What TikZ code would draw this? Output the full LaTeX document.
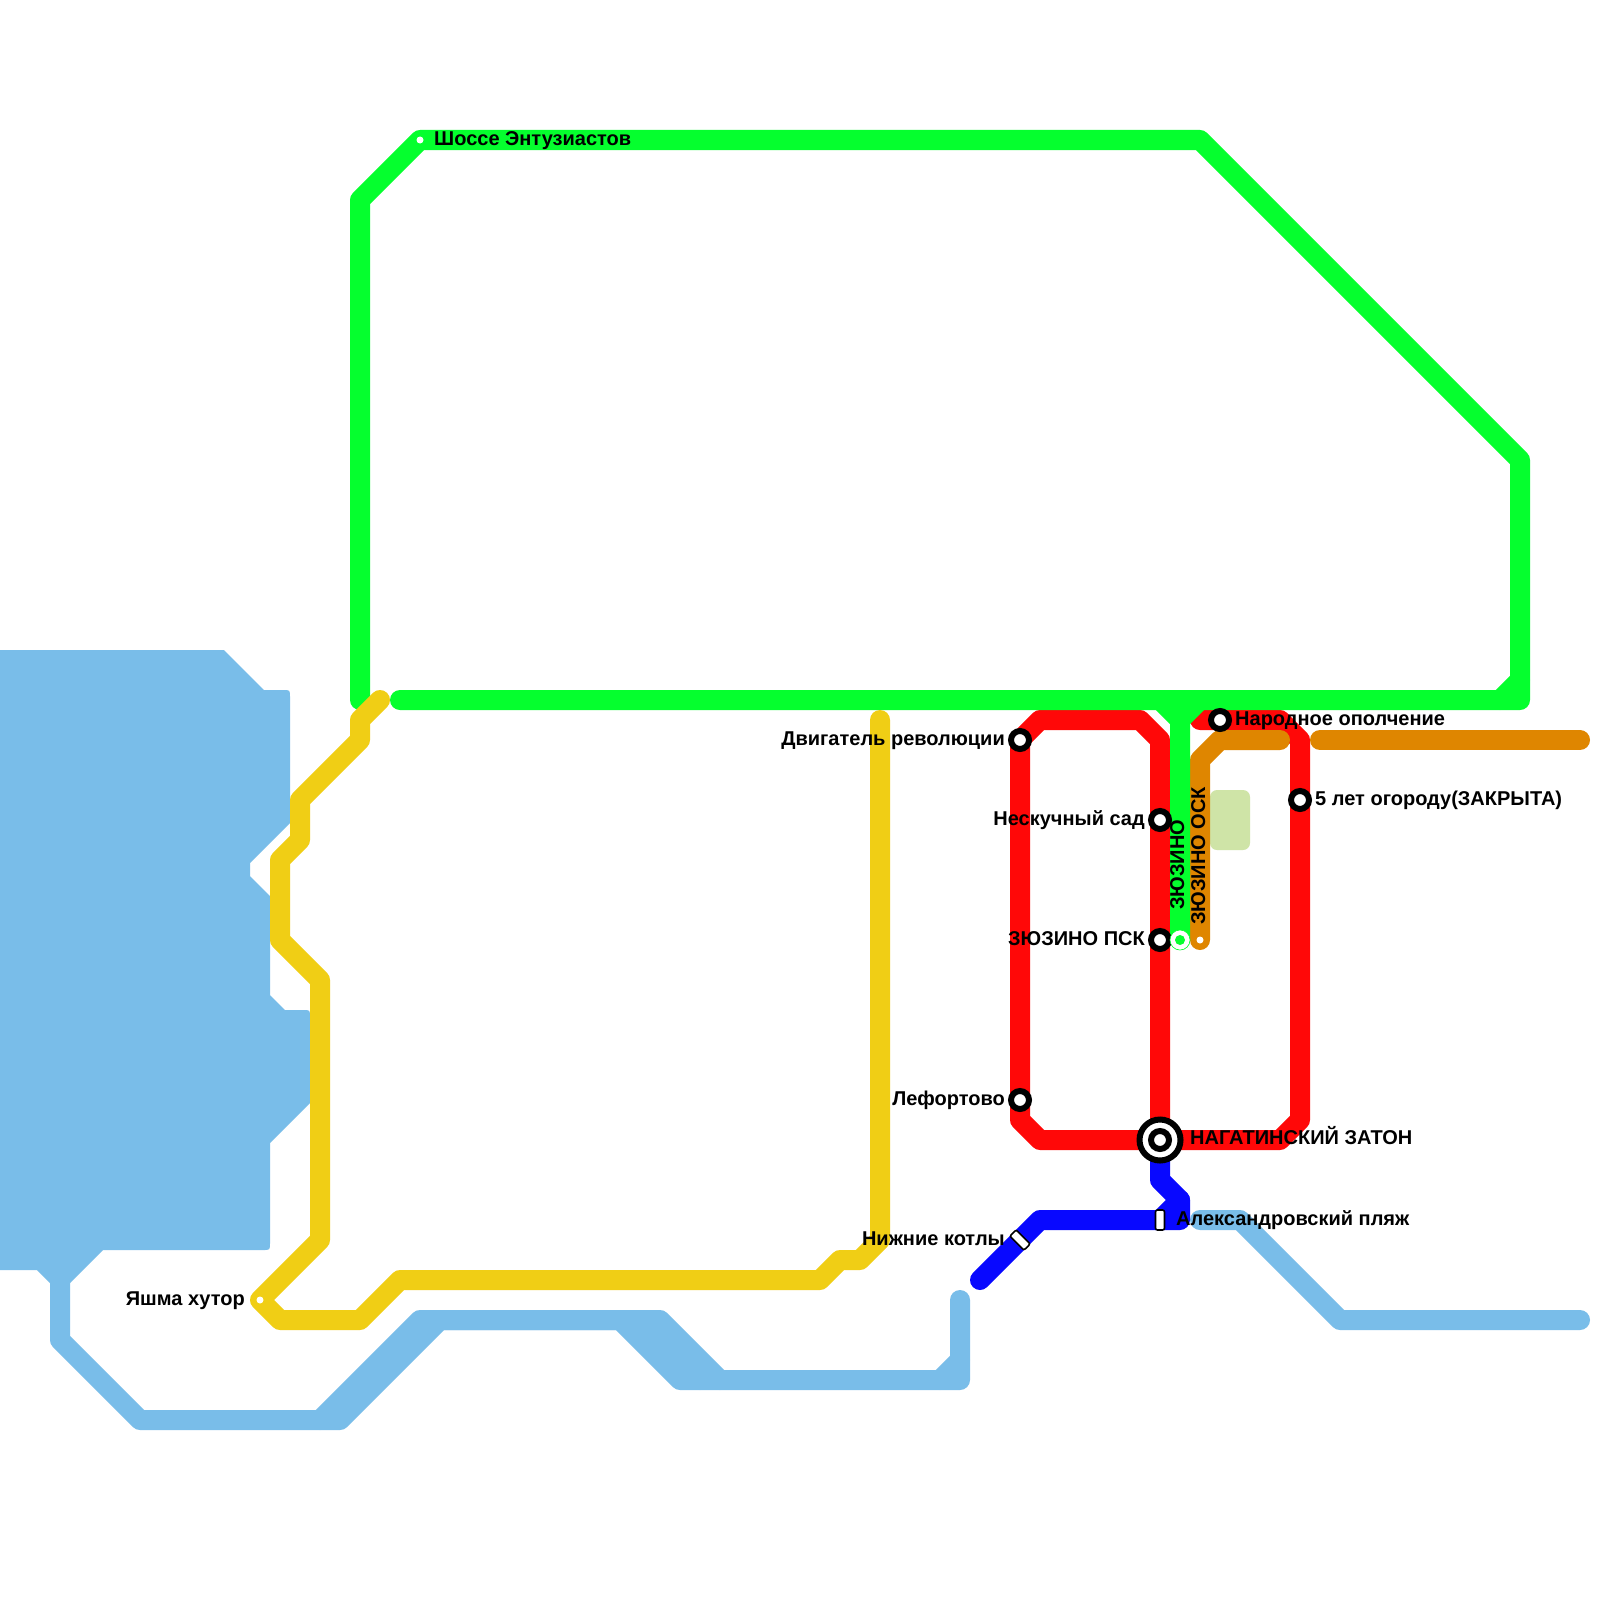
\documentclass[tikz,border=0pt]{standalone}
\usepackage{fontspec}
\setmainfont{Liberation Sans}
\definecolor{cgreen}{HTML}{05FF2E}
\definecolor{cred}{HTML}{FF0808}
\definecolor{cblue}{HTML}{0808FF}
\definecolor{cyellow}{HTML}{F0CE15}
\definecolor{corange}{HTML}{DF8600}
\definecolor{clblue}{HTML}{79BDE9}
\definecolor{cpale}{HTML}{CFE4A7}
\tikzset{
  metro/.style={line width=20pt,line cap=round,line join=round},
  ringst/.style={circle,draw=black,fill=white,line width=6pt,minimum size=18pt,inner sep=0pt},
  hubst/.style={circle,draw=black,fill=white,line width=6pt,minimum size=41pt,inner sep=0pt},
  dotst/.style={circle,fill=white,minimum size=7pt,inner sep=0pt},
  barst/.style={rectangle,rounded corners=2pt,draw=black,fill=white,line width=1.6pt,minimum width=9pt,minimum height=20pt,inner sep=0pt},
  lbl/.style={font=\fontsize{20}{20}\selectfont\bfseries,inner sep=0pt,text=black},
  lble/.style={lbl,anchor=base east},
  lblw/.style={lbl,anchor=base west},
  lblv/.style={lbl,rotate=90,anchor=base west},
}
\begin{document}
\begin{tikzpicture}[x=1pt,y=-1pt]
\useasboundingbox (0,0) rectangle (1600,1600);
\fill[white] (0,0) rectangle (1600,1600);
% station positions
\coordinate (pDvig) at (1020,740);
\coordinate (pNesk) at (1160,820);
\coordinate (pZpsk) at (1160,940);
\coordinate (pLef) at (1020,1100);
\coordinate (pNag) at (1160,1140);
\coordinate (pNar) at (1220,720);
\coordinate (pPyat) at (1300,800);
\coordinate (pAlex) at (1160,1220);
\coordinate (pKot) at (1020,1240);
\coordinate (pZ) at (1180,940);
\coordinate (pOsk) at (1200,940);
\coordinate (pSh) at (420,140);
\coordinate (pYa) at (260,1300);
% water
\fill[clblue] (0,650) -- (224,650) -- (264,690) -- (283,690) .. controls (290,690) .. (290,697)
  -- (290,823) -- (250,863) -- (250,876) -- (270,896) -- (270,995) -- (285,1010) -- (303,1010)
  .. controls (310,1010) .. (310,1017) -- (310,1103) -- (270,1143) -- (270,1243)
  .. controls (270,1250) .. (263,1250) -- (103,1250) -- (70,1283) -- (50,1283) -- (37,1270) -- (0,1270) -- cycle;
\draw[metro,clblue] (60,1280) -- (60,1340) -- (140,1420) -- (320,1420) -- (420,1320) -- (660,1320) -- (720,1380) -- (960,1380) -- (960,1300);
\draw[metro,clblue] (320,1420) -- (340,1420) -- (440,1320) -- (620,1320) -- (680,1380) -- (720,1380);
\draw[metro,clblue] (640,1320) -- (700,1380);
\draw[metro,clblue] (940,1380) -- (960,1360);
\draw[metro,clblue] (1200,1220) -- (1240,1220) -- (1340,1320) -- (1580,1320);
% pale block
\fill[cpale,rounded corners=7pt] (1210,790) rectangle (1250,850);
% blue line
\draw[metro,cblue] (pNag) -- (1160,1180) -- (1180,1200) -- (1180,1220) -- (pAlex) -- (1040,1220) -- (pKot) -- (980,1280);
\draw[metro,cblue] (pAlex) -- (1180,1200);
% red line
\draw[metro,cred] (pLef) -- (pDvig) -- (1040,720) -- (1140,720) -- (1160,740) -- (pNesk) -- (pZpsk) -- (pNag);
\draw[metro,cred] (pLef) -- (1020,1120) -- (1040,1140) -- (pNag) -- (1280,1140) -- (1300,1120) -- (pPyat) -- (1300,740) -- (1280,720) -- (pNar) -- (1200,720);
% orange line
\draw[metro,corange] (pOsk) -- (1200,760) -- (1220,740) -- (1280,740);
\draw[metro,corange] (1320,740) -- (1580,740);
% green line
\draw[metro,cgreen] (360,700) -- (360,200) -- (pSh) -- (1200,140) -- (1520,460) -- (1520,700) -- (400,700);
\draw[metro,cgreen] (1500,700) -- (1520,680);
\draw[metro,cgreen] (1160,700) -- (1180,720) -- (pZ);
\draw[metro,cgreen] (1200,700) -- (1180,720);
% yellow line
\draw[metro,cyellow] (380,700) -- (360,720) -- (360,740) -- (300,800) -- (300,840) -- (280,860) -- (280,940)
  -- (320,980) -- (320,1240) -- (pYa) -- (280,1320) -- (360,1320) -- (400,1280) -- (820,1280) -- (840,1260) -- (860,1260) -- (880,1240) -- (880,720);
% stations
\node[ringst] (sDvig) at (pDvig) {};
\node[ringst] (sNesk) at (pNesk) {};
\node[ringst] (sZpsk) at (pZpsk) {};
\node[ringst] (sLef) at (pLef) {};
\node[ringst] (sNar) at (pNar) {};
\node[ringst] (sPyat) at (pPyat) {};
\node[hubst] (sNag) at (pNag) {};
\node[ringst] (sNagI) at (pNag) {};
\node[barst] (sAlex) at (pAlex) {};
\node[barst,rotate=45] (sKot) at (pKot) {};
\node[circle,draw=cgreen,fill=white,line width=0.6pt,minimum size=20pt,inner sep=0pt] (sZ) at (pZ) {};
\node[circle,fill=cgreen,minimum size=10pt,inner sep=0pt] (sZi) at (pZ) {};
\node[dotst] (sOsk) at (pOsk) {};
\node[dotst] (sSh) at (pSh) {};
\node[dotst] (sYa) at (pYa) {};
% labels
\node[lblw] (tSh) at (434,146) {Шоссе Энтузиастов};
\node[lble] (tDvig) at (1005,745) {Двигатель революции};
\node[lble] (tNesk) at (1145,825) {Нескучный сад};
\node[lble] (tZpsk) at (1145,945) {ЗЮЗИНО ПСК};
\node[lble] (tLef) at (1005,1105) {Лефортово};
\node[lble] (tYa) at (245,1305) {Яшма хутор};
\node[lble] (tKot) at (1005,1245) {Нижние котлы};
\node[lblw] (tAlex) at (1176,1225) {Александровский пляж};
\node[lblw] (tNag) at (1190,1144) {НАГАТИНСКИЙ ЗАТОН};
\node[lblw] (tNar) at (1235,725) {Народное ополчение};
\node[lblw] (tPyat) at (1315,805) {5 лет огороду(ЗАКРЫТА)};
\node[lblv] (tZ) at (1184,910) {ЗЮЗИНО};
\node[lblv] (tOsk) at (1205,925) {ЗЮЗИНО ОСК};
\end{tikzpicture}
\end{document}
